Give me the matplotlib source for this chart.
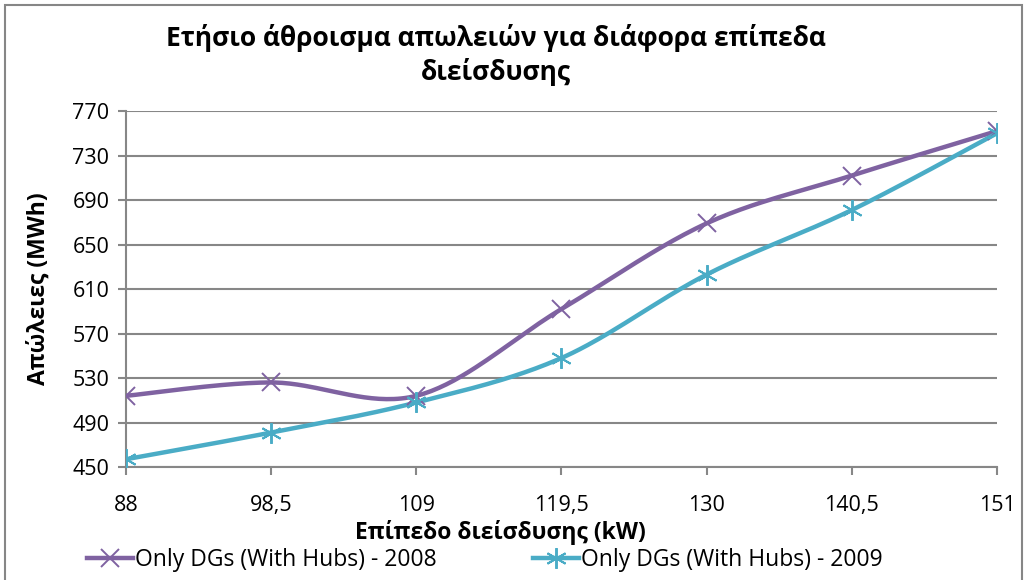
import numpy as np
import matplotlib
matplotlib.use("Agg")
import matplotlib.pyplot as plt
from matplotlib.patches import Rectangle

plt.rcParams['font.family'] = ['Open Sans', 'DejaVu Sans']

# data
levels = ['88', '98,5', '109', '119,5', '130', '140,5', '151']
loss_2008 = [514, 526, 514, 592, 669, 712, 752]
loss_2009 = [457, 481, 508, 548, 623, 681, 750]
name_2008 = 'Only DGs (With Hubs) - 2008'
name_2009 = 'Only DGs (With Hubs) - 2009'
yticks = [450, 490, 530, 570, 610, 650, 690, 730, 770]

purple = '#7f62a1'
cyan = '#4aacc6'
grid_c = '#878787'


def smooth(xs, ys, n=40):
    # catmull-rom style curve like excel "smoothed line"
    xs = np.asarray(xs, float)
    ys = np.asarray(ys, float)
    px = np.concatenate([[xs[0]], xs, [xs[-1]]])
    py = np.concatenate([[ys[0]], ys, [ys[-1]]])
    outx, outy = [], []
    t = np.linspace(0, 1, n)
    for i in range(1, len(px) - 2):
        p0 = np.array([px[i], py[i]])
        p3 = np.array([px[i + 1], py[i + 1]])
        c1 = p0 + (p3 - np.array([px[i - 1], py[i - 1]])) / 6
        c2 = p3 - (np.array([px[i + 2], py[i + 2]]) - p0) / 6
        b = ((1 - t) ** 3)[:, None] * p0 + (3 * (1 - t) ** 2 * t)[:, None] * c1 \
            + (3 * (1 - t) * t ** 2)[:, None] * c2 + (t ** 3)[:, None] * p3
        outx.extend(b[:, 0])
        outy.extend(b[:, 1])
    return outx, outy


fig = plt.figure(figsize=(10.28, 5.8), dpi=100)
ax = fig.add_axes([0.1226, 0.1948, 0.8472, 0.6138])

x = np.arange(len(levels))
for vals, col, mk, ms, name in [(loss_2008, purple, 'x', 13, name_2008),
                                (loss_2009, cyan, (6, 2, 0), 15, name_2009)]:
    sx, sy = smooth(x, vals)
    ax.plot(sx, sy, color=col, lw=3.2, solid_capstyle='round', zorder=3)
    ax.plot(x, vals, ls='none', marker=mk, ms=ms, mew=1.4, color=col, zorder=4)
    ax.plot([], [], color=col, lw=3.2, marker=mk, ms=ms, mew=1.4, label=name)

ax.set_xlim(0, len(levels) - 1)
ax.set_ylim(yticks[0], yticks[-1])
ax.set_xticks(x)
ax.set_xticklabels(levels)
ax.set_yticks(yticks)
ax.yaxis.grid(True, color=grid_c, lw=1.5)
ax.set_axisbelow(True)
for s in ['top', 'right']:
    ax.spines[s].set_visible(False)
for s in ['left', 'bottom']:
    ax.spines[s].set_color(grid_c)
    ax.spines[s].set_linewidth(1.5)
ax.tick_params(axis='both', colors=grid_c, width=1.5, length=6, labelsize=15.5,
               labelcolor='black')
ax.tick_params(axis='x', pad=14)
ax.tick_params(axis='y', pad=6)

ax.set_xlabel('Επίπεδο διείσδυσης (kW)', fontsize=16.5, fontweight='bold')
ax.xaxis.set_label_coords(0.43, -0.15)
ax.set_ylabel('Απώλειες (MWh)', fontsize=16.5, fontweight='bold')
ax.yaxis.set_label_coords(-0.087, 0.5)

fig.text(0.482, 0.905, 'Ετήσιο άθροισμα απωλειών για διάφορα επίπεδα\nδιείσδυσης',
         ha='center', va='center', fontsize=19, fontweight='bold', linespacing=1.3)

fig.legend(loc='lower center', bbox_to_anchor=(0.472, -0.022), ncol=2, frameon=False,
           fontsize=16.5, handlelength=2.0, handletextpad=0.1, columnspacing=4.2)

fig.patches.append(Rectangle((5 / 1028, -0.05), 1017 / 1028, 0.05 + 575 / 580,
                             transform=fig.transFigure, fill=False,
                             edgecolor='#868686', lw=1.5))

fig.savefig('out.png', dpi=100)
